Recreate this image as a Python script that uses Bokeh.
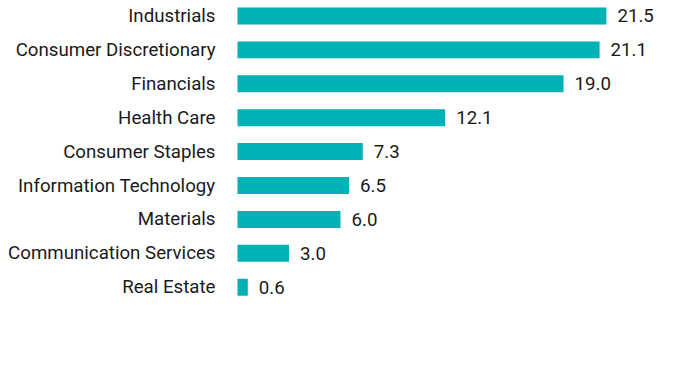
from bokeh.plotting import figure
from bokeh.models import Range1d, ColumnDataSource
from bokeh.core.properties import value
from bokeh.embed import file_html
from bokeh.resources import INLINE

categories = ["Industrials", "Consumer Discretionary", "Financials", "Health Care",
              "Consumer Staples", "Information Technology", "Materials",
              "Communication Services", "Real Estate"]
values = [21.5, 21.1, 19.0, 12.1, 7.3, 6.5, 6.0, 3.0, 0.6]
value_labels = ["21.5", "21.1", "19.0", "12.1", "7.3", "6.5", "6.0", "3.0", "0.6"]

pos = list(range(len(categories)))
src = ColumnDataSource(dict(y=pos, v=values, cat=categories, lab=value_labels,
                            zero=[0] * len(pos)))

p = figure(width=680, height=368, output_backend="svg", toolbar_location=None,
           x_range=Range1d(-13.811, 25.816), y_range=Range1d(10.398, -0.457),
           min_border=0, min_border_left=0, min_border_right=0,
           min_border_top=0, min_border_bottom=0)
p.axis.visible = False
p.grid.visible = False
p.outline_line_color = None
p.background_fill_color = "white"
p.border_fill_color = "white"

p.hbar(y="y", left=0, right="v", height=0.5, source=src,
       fill_color="#00B1B6", line_color=None)

p.text(x="zero", y="y", text="cat", source=src, x_offset=-22,
       text_align="right", text_baseline="middle",
       text_font=value("Roboto"), text_font_size="18.7px", text_color="#1a1a1a")

p.text(x="v", y="y", text="lab", source=src, x_offset=11,
       text_align="left", text_baseline="middle",
       text_font=value("Roboto"), text_font_size="18.7px", text_color="#1a1a1a")

open("out.html", "w").write(file_html(p, INLINE))
